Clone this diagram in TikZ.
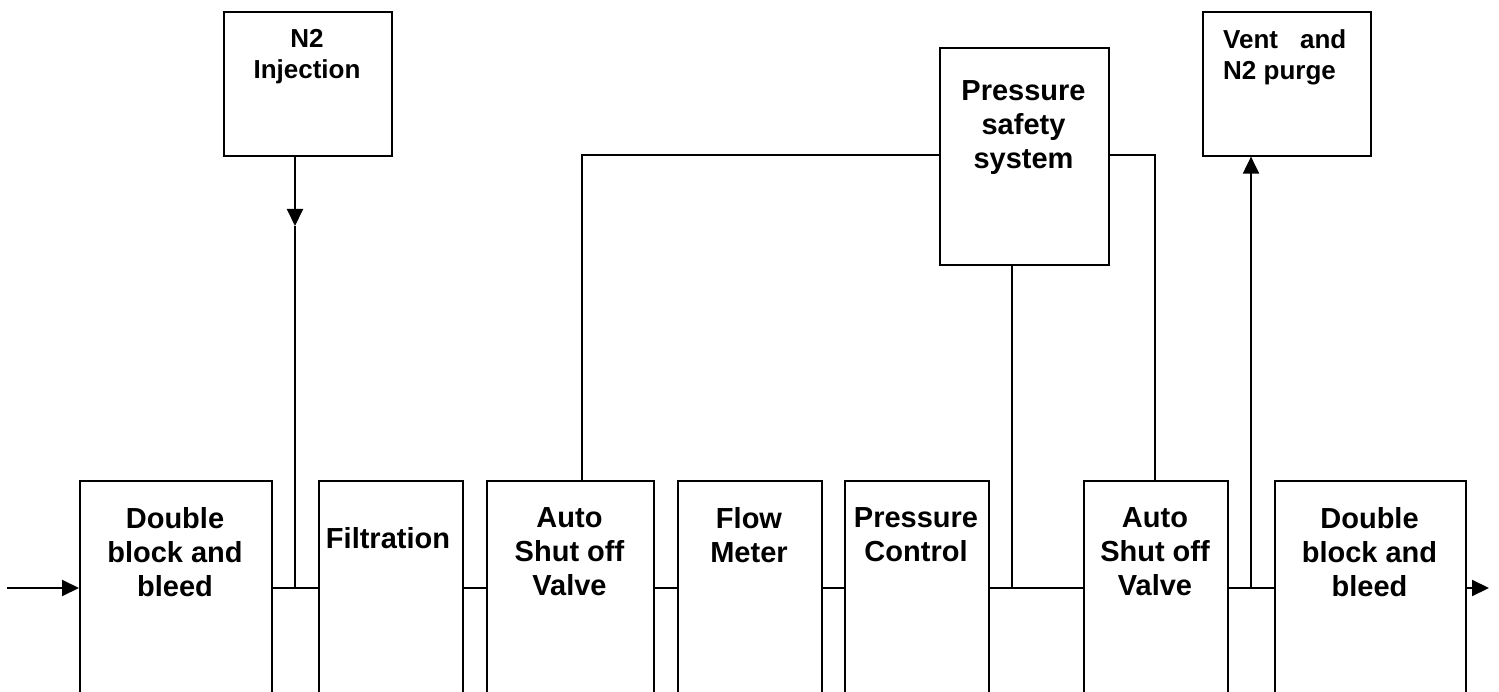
\documentclass[tikz,border=0pt]{standalone}
\usepackage{fontspec}
\setmainfont{Liberation Sans}
\usetikzlibrary{arrows.meta}
\begin{document}
\begin{tikzpicture}[x=1pt,y=-1pt,
  bbox/.style={draw, line width=2pt, anchor=north west, inner sep=0pt, minimum height=240pt},
  tbox/.style={draw, line width=1.6pt, anchor=north west, inner sep=0pt},
  lbl/.style={inner sep=0pt, anchor=north, align=center, font=\fontsize{29pt}{34pt}\selectfont\bfseries},
  tlbl/.style={inner sep=0pt, anchor=north, align=center, font=\fontsize{26pt}{31pt}\selectfont\bfseries},
  conn/.style={line width=2pt},
  arr/.style={line width=2pt, -{Triangle[length=17pt,width=16pt]}}
]
\useasboundingbox (0,0) rectangle (1499,692);
\clip (0,0) rectangle (1499,692);
% bottom boxes
\node[bbox, minimum width=192pt] (dbb1) at (79,480) {};
\node[bbox, minimum width=144pt] (filt) at (318,480) {};
\node[bbox, minimum width=167pt] (auto1) at (486,480) {};
\node[bbox, minimum width=144pt] (flow) at (677,480) {};
\node[bbox, minimum width=144pt] (pc) at (844,480) {};
\node[bbox, minimum width=144pt] (auto2) at (1083,480) {};
\node[bbox, minimum width=191pt] (dbb2) at (1274,480) {};
% labels
\node[lbl] (tdbb1) at (175,507) {Double\\block and\\bleed};
\node[lbl] (tfilt) at (388,527) {Filtration};
\node[lbl] (tauto1) at (569.5,507) {Auto\\Shut off\\Valve};
\node[lbl] (tflow) at (749,507) {Flow\\Meter};
\node[lbl] (tpc) at (916,507) {Pressure\\Control};
\node[lbl] (tauto2) at (1155,507) {Auto\\Shut off\\Valve};
\node[lbl] (tdbb2) at (1369.5,507) {Double\\block and\\bleed};
% top boxes
\node[tbox, minimum width=168pt, minimum height=144pt] (inj) at (223,11) {};
\node[tlbl] (tinj) at (307,29) {N2\\Injection};
\node[tbox, minimum width=169pt, minimum height=217pt, line width=2pt] (psb) at (939,47) {};
\node[lbl] (tpsb) at (1023.5,80) {Pressure\\safety\\system};
\node[tbox, minimum width=168pt, minimum height=144pt] (vent) at (1202,11) {};
\node[tlbl, align=left, anchor=north west] (tvent) at (1223,29) {Vent\hspace{22pt}and\\N2 purge};
% coordinates
\coordinate (m) at (0,588);
\coordinate (in) at (7,588);
\coordinate (out) at (1489,588);
\coordinate (j1) at (295,588);
\coordinate (injtip) at (295,226);
\coordinate (j2) at (1012,588);
\coordinate (j3) at (1251,588);
\coordinate (c1) at (582,155);
\coordinate (c2) at (1155,155);
% main line
\draw[arr] (in) -- (dbb1.north west |- m);
\draw[conn] (dbb1.north east |- m) -- (filt.north west |- m);
\draw[conn] (filt.north east |- m) -- (auto1.north west |- m);
\draw[conn] (auto1.north east |- m) -- (flow.north west |- m);
\draw[conn] (flow.north east |- m) -- (pc.north west |- m);
\draw[conn] (pc.north east |- m) -- (auto2.north west |- m);
\draw[conn] (auto2.north east |- m) -- (dbb2.north west |- m);
\draw[arr] (dbb2.north east |- m) -- (out);
% injection
\draw[arr] (inj.south -| j1) -- (injtip);
\draw[conn] (injtip) -- (j1);
% pressure safety
\draw[conn] (psb.west |- c1) -- (c1) -- (auto1.north -| c1);
\draw[conn] (psb.east |- c2) -- (c2) -- (auto2.north -| c2);
\draw[conn] (psb.south -| j2) -- (j2);
% vent
\draw[arr] (j3) -- (vent.south -| j3);
\end{tikzpicture}
\end{document}
